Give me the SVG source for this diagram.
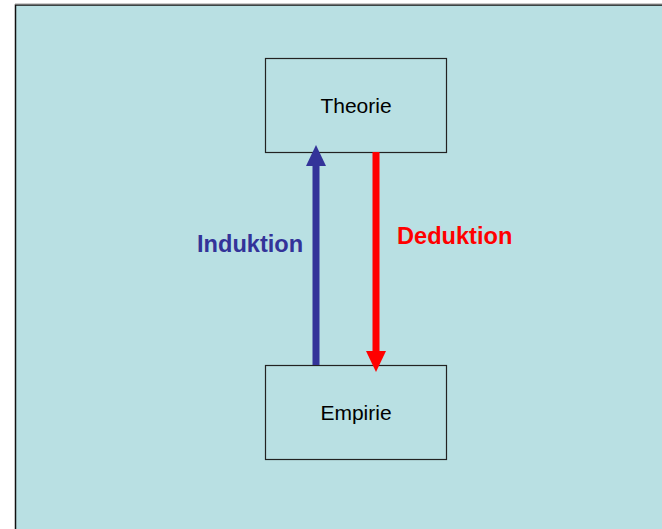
<svg xmlns="http://www.w3.org/2000/svg" width="662" height="529" viewBox="0 0 662 529">
<style>
.box{fill:#B9E0E3;stroke:#222;stroke-width:1.2}
.lbl{font-family:"Liberation Sans",Arial,sans-serif;font-size:21px;fill:#000;text-anchor:middle}
.big{font-family:"Liberation Sans",Arial,sans-serif;font-size:23.6px;font-weight:bold}
</style>
<rect x="0" y="0" width="662" height="529" fill="#fff"/>
<rect id="background" x="15.5" y="5" width="660" height="540" fill="#B9E0E3" stroke="#111" stroke-width="1.5"/>
<line x1="15" y1="4" x2="662" y2="4" stroke="#999" stroke-width="1"/>
<g id="theorie">
<rect class="box" x="265.5" y="58.5" width="181" height="94"/>
<text class="lbl" x="356" y="113">Theorie</text>
</g>
<g id="empirie">
<rect class="box" x="265.5" y="365.5" width="181" height="94"/>
<text class="lbl" x="356" y="420">Empirie</text>
</g>
<g id="connectors">
<line x1="316" y1="365" x2="316" y2="164" stroke="#333399" stroke-width="7"/>
<polygon points="306,166 326,166 316,145" fill="#333399"/>
<line x1="376" y1="152" x2="376" y2="353" stroke="#FF0000" stroke-width="7"/>
<polygon points="366,351 386,351 376,372" fill="#FF0000"/>
<text class="big" x="197" y="252" fill="#333399">Induktion</text>
<text class="big" x="397" y="244" fill="#FF0000">Deduktion</text>
</g>
</svg>
